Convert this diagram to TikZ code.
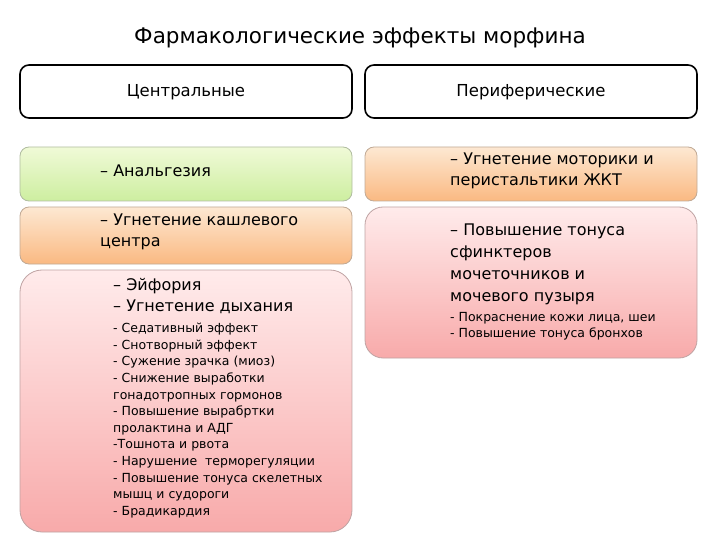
\documentclass[tikz,border=0pt]{standalone}
\usepackage{fontspec}
\setmainfont{DejaVu Sans}
\begin{document}
\begin{tikzpicture}[x=1pt,y=-1pt,
  box/.style={draw=#1!60!black!60, line width=0.8pt, rounded corners=9pt},
  big/.style={font=\fontsize{16}{21}\selectfont, align=left, anchor=north west, inner sep=0},
  small/.style={font=\fontsize{12.5}{16.6}\selectfont, align=left, anchor=north west, inner sep=0}]
\useasboundingbox (0,0) rectangle (720,540);
\definecolor{gtop}{RGB}{240,250,215}\definecolor{gbot}{RGB}{205,238,160}
\definecolor{otop}{RGB}{253,232,210}\definecolor{obot}{RGB}{250,185,130}
\definecolor{ptop}{RGB}{255,235,235}\definecolor{pbot}{RGB}{248,170,170}
\node[font=\fontsize{21.5}{24}\selectfont] (title) at (360,38) {Фармакологические эффекты морфина};
\draw[line width=1.6pt, rounded corners=9pt] (20,65) rectangle (352,118);
\draw[line width=1.6pt, rounded corners=9pt] (365,65) rectangle (697,118);
\node[font=\fontsize{16.5}{18}\selectfont] (c) at (186,92) {Центральные};
\node[font=\fontsize{16.5}{18}\selectfont] (p) at (531,92) {Периферические};
\draw[box=gbot, top color=gtop, bottom color=gbot] (20,147) rectangle (352,201);
\draw[box=obot, top color=otop, bottom color=obot] (20,207) rectangle (352,264);
\draw[box=pbot, top color=ptop, bottom color=pbot, rounded corners=22pt] (20,270) rectangle (352,532);
\draw[box=obot, top color=otop, bottom color=obot] (365,147) rectangle (697,201);
\draw[box=pbot, top color=ptop, bottom color=pbot, rounded corners=18pt] (365,207) rectangle (697,358);
\node[big] (a1) at (100,165) {– Анальгезия};
\node[big] (a2) at (100,214) {– Угнетение кашлевого\\центра};
\node[big] (a3) at (113,278) {– Эйфория\\– Угнетение дыхания};
\node[small] (a4) at (113,323) {- Седативный эффект\\- Снотворный эффект\\- Сужение зрачка (миоз)\\- Снижение выработки\\гонадотропных гормонов\\- Повышение выраб{}ртки\\пролактина и АДГ\\-Тошнота и рвота\\- Нарушение \ терморегуляции\\- Повышение тонуса скелетных\\мышц и судороги\\- Брадикардия};
\node[big] (b1) at (450,153) {– Угнетение моторики и\\перистальтики ЖКТ};
\node[big, font=\fontsize{16}{22}\selectfont] (b2) at (450,224) {– Повышение тонуса\\сфинктеров\\мочеточников и\\мочевого пузыря};
\node[small, font=\fontsize{12.5}{16}\selectfont] (b3) at (450,312) {- Покраснение кожи лица, шеи\\- Повышение тонуса бронхов};
\end{tikzpicture}
\end{document}
